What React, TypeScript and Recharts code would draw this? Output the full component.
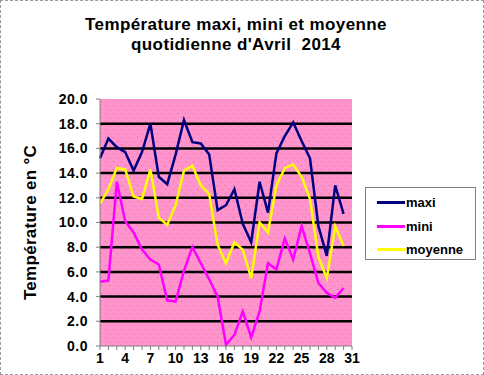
import { CartesianGrid, Line, LineChart, XAxis, YAxis } from 'recharts'

const days = [1, 2, 3, 4, 5, 6, 7, 8, 9, 10, 11, 12, 13, 14, 15, 16, 17, 18, 19, 20, 21, 22, 23, 24, 25, 26, 27, 28, 29, 30, 31]
const maxi = [15.2, 16.8, 16.1, 15.7, 14.2, 15.7, 18.0, 13.7, 13.1, 15.5, 18.3, 16.5, 16.4, 15.5, 11.0, 11.4, 12.7, 9.9, 8.4, 13.3, 10.8, 15.6, 17.0, 18.1, 16.6, 15.2, 9.7, 7.3, 13.0, 10.7, null]
const mini = [5.2, 5.3, 13.3, 10.1, 9.2, 7.8, 7.0, 6.6, 3.7, 3.6, 6.1, 8.0, 6.7, 5.4, 4.0, 0.1, 0.9, 2.8, 0.7, 2.8, 6.7, 6.2, 8.7, 7.0, 9.7, 7.5, 5.1, 4.3, 3.9, 4.7, null]
const moyenne = [11.5, 12.7, 14.4, 14.3, 12.1, 11.9, 14.3, 10.4, 9.8, 11.4, 14.2, 14.6, 13.0, 12.3, 8.2, 6.7, 8.4, 7.8, 5.5, 10.0, 9.2, 13.0, 14.4, 14.7, 13.7, 11.9, 7.2, 5.5, 9.7, 8.1, null]
const yTicks = [0, 2, 4, 6, 8, 10, 12, 14, 16, 18, 20]
const gridValues = [2, 4, 6, 8, 10, 12, 14, 16, 18]

const series = [
  { key: 'maxi', color: '#000080' },
  { key: 'mini', color: '#FF00FF' },
  { key: 'moyenne', color: '#FFFF00' },
]

const data = days.map((d, i) => ({ day: d, maxi: maxi[i], mini: mini[i], moyenne: moyenne[i] }))

const font = '"Liberation Sans", Arial, sans-serif'

function XTick(props: any) {
  const { x, y, payload, index } = props
  if (index % 3 !== 0) return null
  return (
    <text x={x} y={y} dy={11} textAnchor="middle" fontFamily={font} fontWeight="bold" fontSize={14} fill="#000">
      {payload.value}
    </text>
  )
}

function LegendBox() {
  return (
    <div style={{ position: 'absolute', left: 364, top: 186, border: '1px solid #808080', width: 111, height: 73, boxSizing: 'border-box', padding: '3px 0 0 11px', background: '#fff' }}>
      {series.map(s => (
        <div key={s.key} style={{ display: 'flex', alignItems: 'center', height: 23.5 }}>
          <span style={{ display: 'inline-block', width: 28, height: 3, background: s.color }} />
          <span style={{ fontFamily: font, fontWeight: 'bold', fontSize: 13, marginLeft: 1 }}>{s.key}</span>
        </div>
      ))}
    </div>
  )
}

export default function App() {
  return (
    <div style={{ position: 'absolute', left: 0, top: 0, width: 484, height: 375, border: '1px dashed #999', boxSizing: 'border-box', background: '#fff' }}>
      <div style={{ position: 'absolute', left: 0, top: 0, width: 484, textAlign: 'center', fontFamily: font, fontWeight: 'bold', fontSize: 17, letterSpacing: 0.4, lineHeight: '20px', paddingTop: 14, paddingRight: 14, boxSizing: 'border-box' }}>
        Température maxi, mini et moyenne<br />quotidienne d'Avril&nbsp; 2014
      </div>
      <div style={{ position: 'absolute', left: -1, top: -1 }}>
        <LineChart width={484} height={375} data={data} margin={{ top: 99, right: 132, bottom: 0, left: 0 }}>
          <defs>
            <pattern id="dots" width="8" height="8" patternUnits="userSpaceOnUse">
              <rect width="8" height="8" fill="#FF94CC" />
              <rect x="1" y="1" width="1" height="1" fill="#F0609F" />
              <rect x="5" y="5" width="1" height="1" fill="#F0609F" />
            </pattern>
          </defs>
          <CartesianGrid vertical={false} horizontalValues={gridValues} stroke="#000" strokeWidth={2.5} fill="url(#dots)" fillOpacity={1} />
          <XAxis dataKey="day" interval={0} height={29} tick={<XTick />} tickSize={4} stroke="#808080" />
          <XAxis xAxisId="top" orientation="top" dataKey="day" height={0} tick={false} tickLine={false} stroke="#808080" strokeDasharray="2 1" />
          <YAxis
            domain={[0, 20]}
            ticks={yTicks}
            interval={0}
            width={100}
            tickSize={4}
            tickMargin={8}
            stroke="#808080"
            tick={{ fill: '#000', fontFamily: font, fontWeight: 'bold', fontSize: 14, letterSpacing: 0.5 }}
            tickFormatter={(v: number) => v.toFixed(1)}
            label={{ value: 'Température en °C', angle: -90, position: 'insideLeft', offset: 30, style: { fontFamily: font, fontWeight: 'bold', fontSize: 17, letterSpacing: 0.3, fill: '#000', textAnchor: 'middle' } }}
          />
          <YAxis yAxisId="right" orientation="right" width={0} tick={false} tickLine={false} stroke="#808080" strokeDasharray="2 1" />
          {series.map(s => (
            <Line key={s.key} type="linear" dataKey={s.key} stroke={s.color} strokeWidth={2.5} dot={false} isAnimationActive={false} connectNulls={false} />
          ))}
        </LineChart>
      </div>
      <LegendBox />
    </div>
  )
}
